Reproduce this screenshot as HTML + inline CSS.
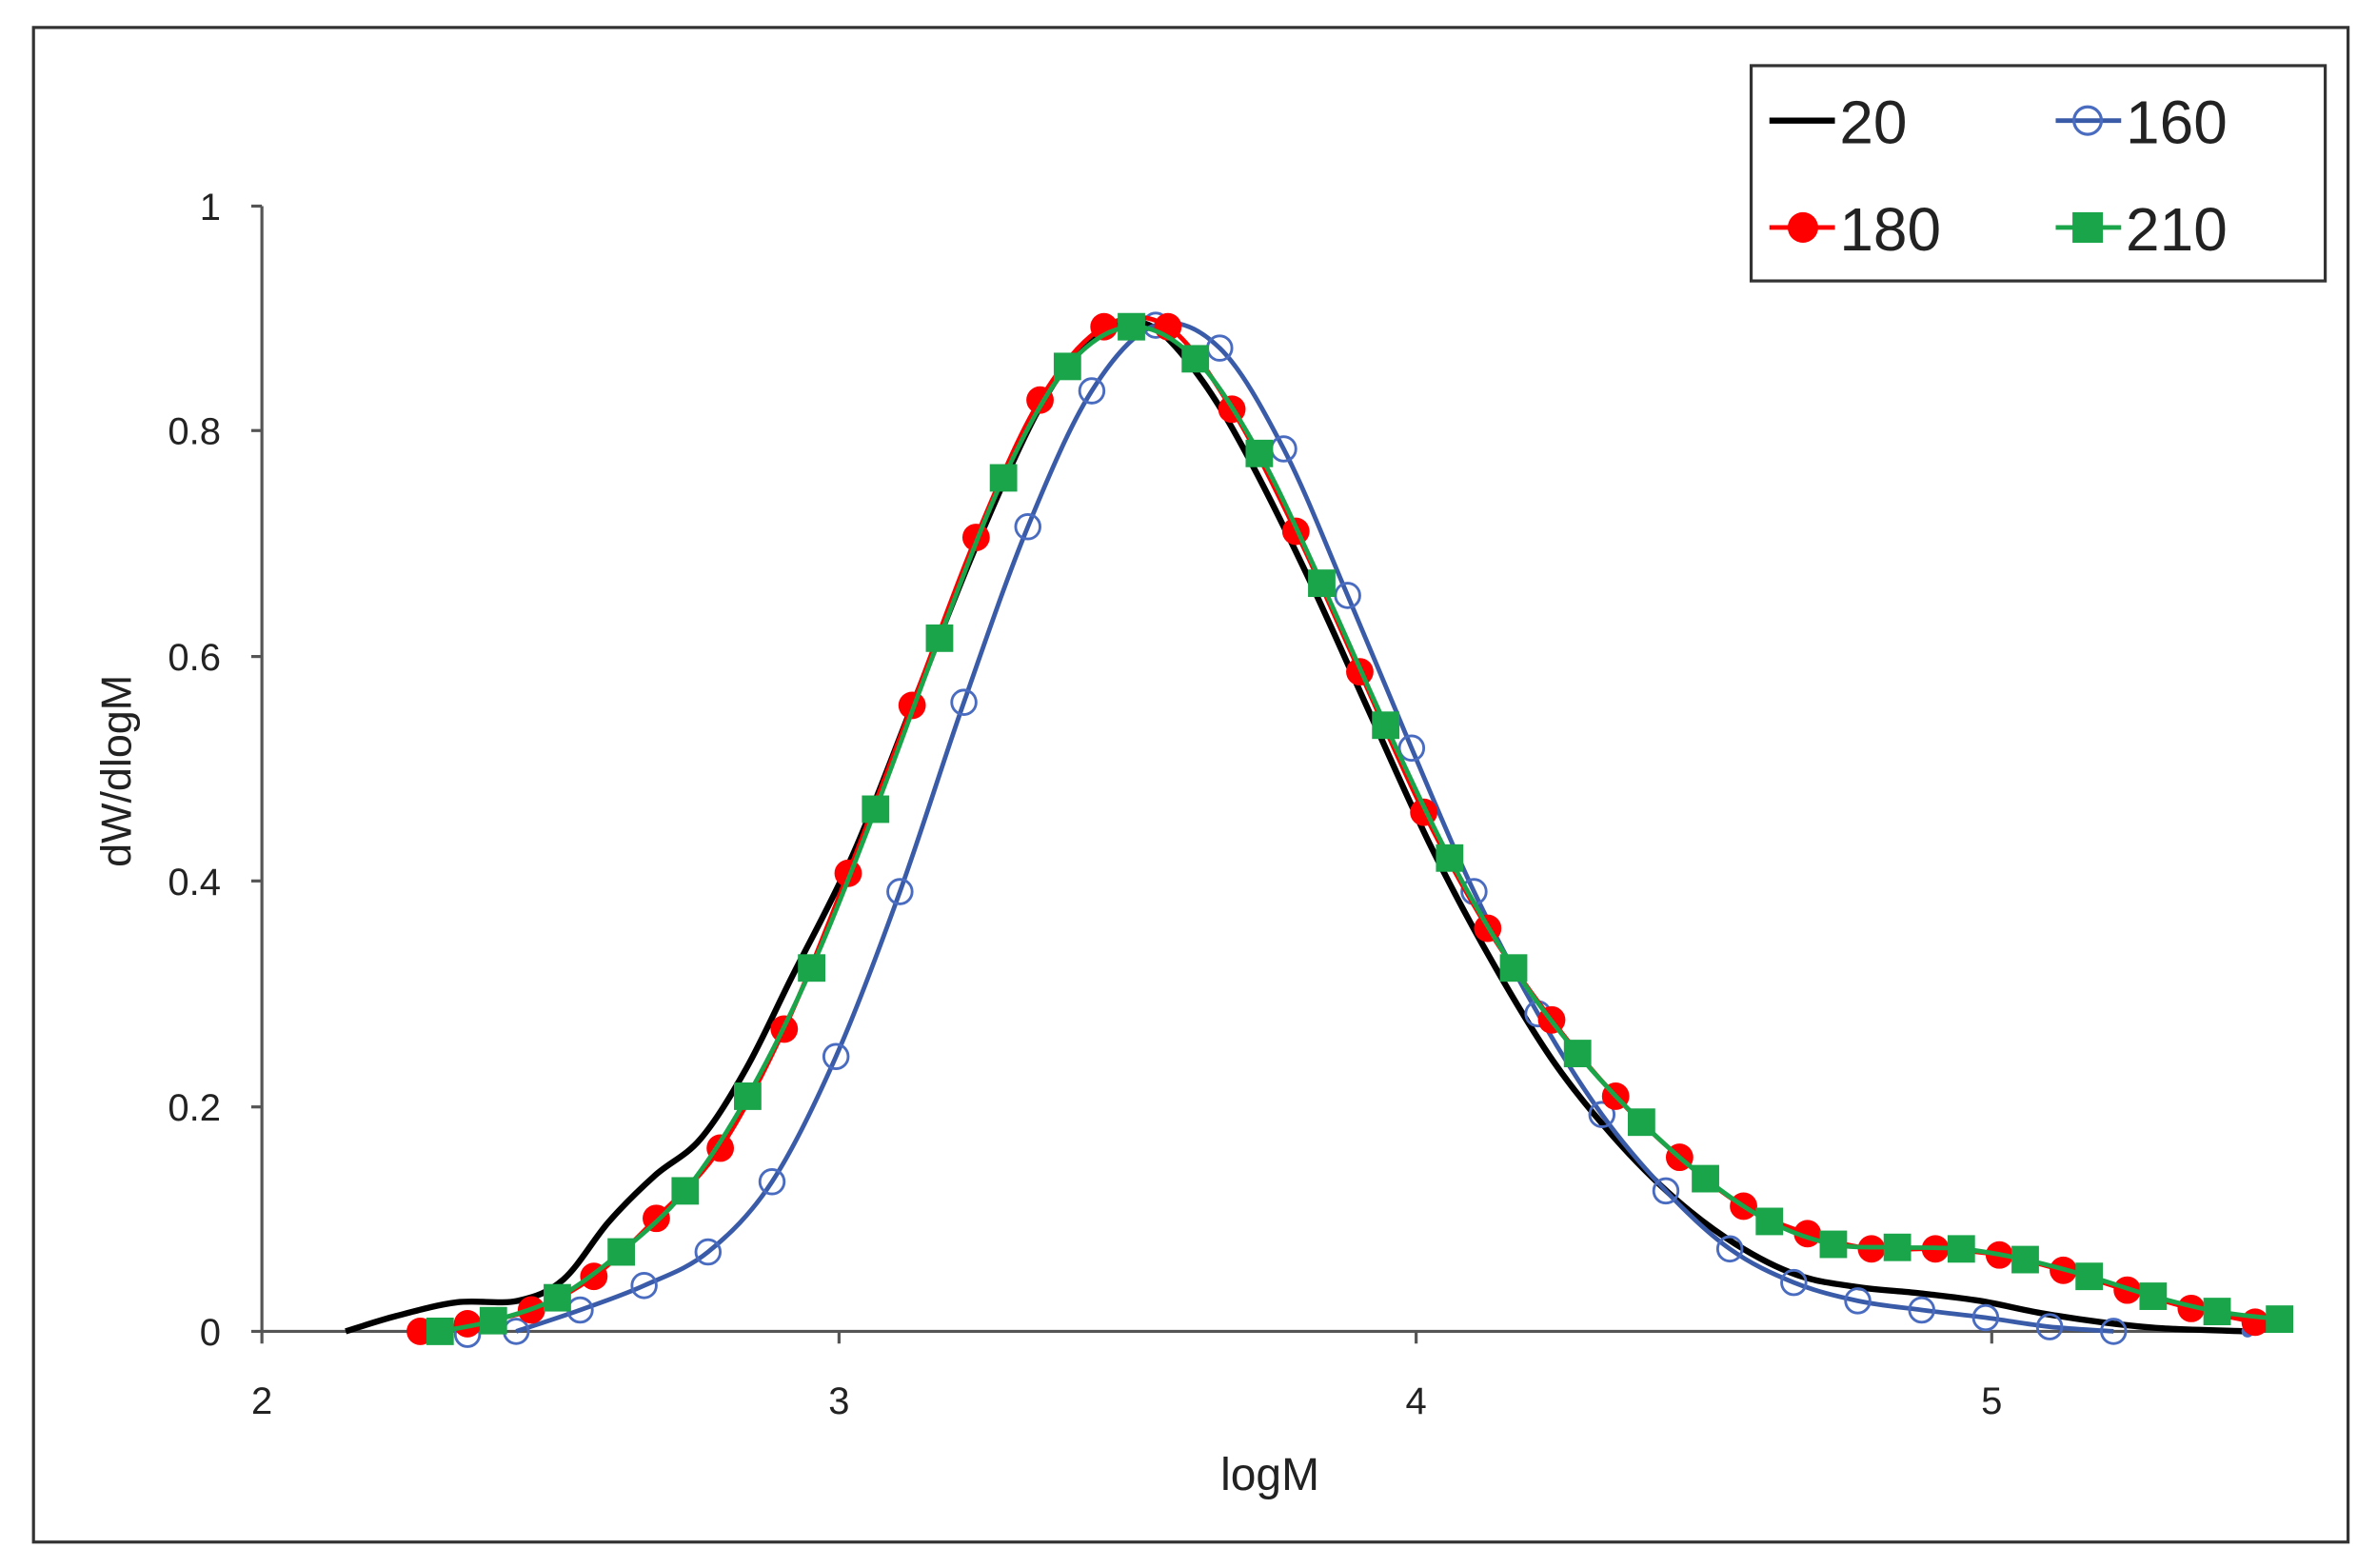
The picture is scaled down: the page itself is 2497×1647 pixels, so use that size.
<!DOCTYPE html>
<html><head><meta charset="utf-8"><style>
html,body{margin:0;padding:0;background:#fff}
svg{display:block}
text{font-family:"Liberation Sans",sans-serif;fill:#222}
</style></head><body>
<svg id="s" width="2497" height="1647" viewBox="0 0 1561 1027" preserveAspectRatio="none" xmlns="http://www.w3.org/2000/svg">
<rect x="0" y="0" width="1561" height="1027" fill="#fff"/>
<rect x="22" y="18" width="1520" height="992" fill="none" stroke="#333" stroke-width="2"/>
<g stroke="#555" stroke-width="2">
<line x1="172" y1="135" x2="172" y2="880"/>
<line x1="165" y1="872" x2="1500" y2="872"/>
<line x1="165" y1="135" x2="172" y2="135"/>
<line x1="165" y1="282" x2="172" y2="282"/>
<line x1="165" y1="430" x2="172" y2="430"/>
<line x1="165" y1="577" x2="172" y2="577"/>
<line x1="165" y1="725" x2="172" y2="725"/>
<line x1="551" y1="872" x2="551" y2="880"/>
<line x1="930" y1="872" x2="930" y2="880"/>
<line x1="1308" y1="872" x2="1308" y2="880"/>
</g>
<g font-size="25" text-anchor="end">
<text x="145" y="144">1</text><text x="145" y="291">0.8</text><text x="145" y="439">0.6</text>
<text x="145" y="586">0.4</text><text x="145" y="734">0.2</text><text x="145" y="881">0</text>
</g>
<g font-size="25" text-anchor="middle">
<text x="172" y="926">2</text><text x="551" y="926">3</text><text x="930" y="926">4</text><text x="1308" y="926">5</text>
</g>
<text x="834" y="976" font-size="30" text-anchor="middle">logM</text>
<text transform="translate(86,505) rotate(-90)" font-size="28" text-anchor="middle">dW/dlogM</text>
<g id="plot"></g>
<rect x="1150" y="43" width="377" height="141" fill="#fff" stroke="#333" stroke-width="2"/>
<g font-size="40">
<line x1="1162" y1="79" x2="1205" y2="79" stroke="#000" stroke-width="4"/>
<text x="1208" y="94">20</text>
<line x1="1350" y1="79" x2="1393" y2="79" stroke="#3a5ba8" stroke-width="3"/>
<circle cx="1371" cy="79" r="9" fill="none" stroke="#4a6cc0" stroke-width="2"/>
<text x="1396" y="94">160</text>
<line x1="1162" y1="149" x2="1205" y2="149" stroke="#ff0000" stroke-width="3"/>
<circle cx="1184" cy="149" r="10" fill="#ff0000"/>
<text x="1208" y="164">180</text>
<line x1="1350" y1="149" x2="1393" y2="149" stroke="#1aa54a" stroke-width="3"/>
<rect x="1361" y="139" width="20" height="20" fill="#1aa54a"/>
<text x="1396" y="164">210</text>
</g>
</svg>
<script>
function cr(p){var d="M"+p[0][0]+","+p[0][1];for(var i=0;i<p.length-1;i++){var a=p[i-1]||p[i],b=p[i],c=p[i+1],e=p[i+2]||c;d+=" C"+(b[0]+(c[0]-a[0])/6)+","+(b[1]+(c[1]-a[1])/6)+" "+(c[0]-(e[0]-b[0])/6)+","+(c[1]-(e[1]-b[1])/6)+" "+c[0]+","+c[1];}return d;}
var red=[[276,872],[307,867],[349,858],[390,836],[431,798],[473,752],[515,674],[557,572],[599,462],[641,352],[683,262],[725,214],[767,214],[809,268],[851,348],[893,440],[935,532],[977,608],[1019,668],[1061,718],[1103,758],[1145,790],[1187,808],[1229,818],[1271,818],[1313,822],[1355,832],[1397,845],[1439,857],[1481,866]];
var grn=[[289,872],[324,865],[366,850],[408,820],[450,780],[491,718],[533,634],[575,530],[617,418],[659,313],[701,240],[743,214],[785,235],[827,297],[868,382],[910,475],[952,562],[994,634],[1036,690],[1078,735],[1120,772],[1162,800],[1204,815],[1246,817],[1288,818],[1330,825],[1372,836],[1414,849],[1456,859],[1497,864]];
var blu=[[307,874],[339,872],[381,858],[423,842],[465,820],[507,774],[549,692],[591,584],[633,460],[675,345],[717,256],[759,213],[801,228],[843,294],[885,390],[927,490],[968,584],[1010,664],[1052,730],[1094,780],[1136,818],[1178,840],[1220,852],[1262,858],[1304,863],[1346,869],[1388,872]];
var blk=[[227,872],[260,862],[300,853],[340,852],[370,838],[400,800],[430,770],[460,746],[490,700],[520,640],[560,560],[600,460],[640,360],[680,272],[710,228],[735,212],[760,216],[790,250],[820,300],[860,380],[900,468],[940,555],[980,630],[1020,695],[1060,745],[1100,785],[1140,815],[1180,835],[1220,843],[1260,847],[1300,852],[1340,860],[1380,866],[1420,870],[1476,872]];
var h='';
h+='<path d="'+cr(blk)+'" fill="none" stroke="#000" stroke-width="4"/>';
h+='<path d="'+cr(blu.slice(1))+'" fill="none" stroke="#3a5ba8" stroke-width="3"/>';
blu.forEach(function(p){h+='<circle cx="'+p[0]+'" cy="'+p[1]+'" r="8" fill="none" stroke="#4a6cc0" stroke-width="1.8"/>';});
h+='<circle cx="1476" cy="872" r="4" fill="#4a6cc0"/>';
h+='<path d="'+cr(red)+'" fill="none" stroke="#ff0000" stroke-width="3"/>';
red.forEach(function(p){h+='<circle cx="'+p[0]+'" cy="'+p[1]+'" r="9" fill="#ff0000"/>';});
h+='<path d="'+cr(grn)+'" fill="none" stroke="#1aa54a" stroke-width="3"/>';
grn.forEach(function(p){h+='<rect x="'+(p[0]-9)+'" y="'+(p[1]-9)+'" width="18" height="18" fill="#1aa54a"/>';});
document.getElementById('plot').innerHTML=h;
</script>
</body></html>
